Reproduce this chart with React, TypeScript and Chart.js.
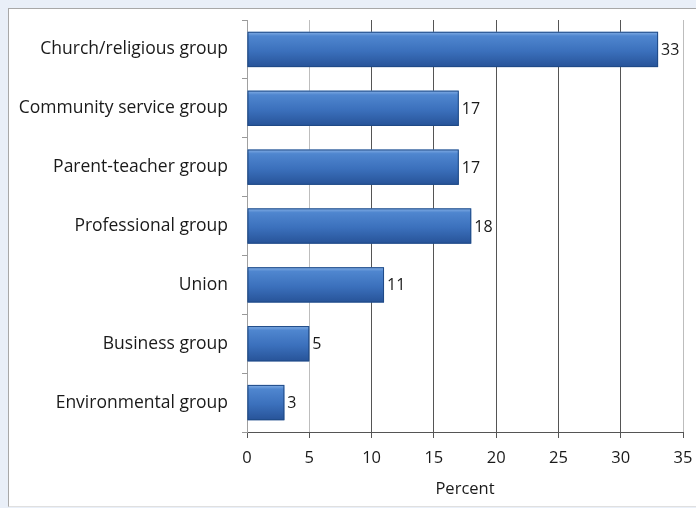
import React, { useEffect, useRef } from "react";
import { Chart, registerables } from "chart.js";

Chart.register(...registerables);

const categories = [
  "Church/religious group",
  "Community service group",
  "Parent-teacher group",
  "Professional group",
  "Union",
  "Business group",
  "Environmental group",
];
const percents = [33, 17, 17, 18, 11, 5, 3];
const xTicks = [0, 5, 10, 15, 20, 25, 30, 35];
const axisTitle = "Percent";

const FONT = "'Open Sans', 'DejaVu Sans', sans-serif";

const gradientBars = {
  id: "gradientBars",
  afterDatasetDraw(chart: any, args: any) {
    const ctx = chart.ctx;
    const meta = args.meta;
    meta.data.forEach((bar: any, i: number) => {
      const p = bar.getProps(["x", "y", "base", "height"], true);
      const top = p.y - p.height / 2;
      const left = Math.min(p.base, p.x);
      const w = Math.abs(p.x - p.base);
      const g = ctx.createLinearGradient(0, top, 0, top + p.height);
      g.addColorStop(0, "#86b0e6");
      g.addColorStop(0.12, "#4f86cf");
      g.addColorStop(0.55, "#3b70bc");
      g.addColorStop(1, "#275398");
      ctx.save();
      ctx.fillStyle = g;
      ctx.fillRect(left, top, w, p.height);
      ctx.strokeStyle = "#1f4a86";
      ctx.lineWidth = 1;
      ctx.strokeRect(left + 0.5, top + 0.5, w - 1, p.height - 1);
      ctx.fillStyle = "#1a1a1a";
      ctx.font = `16px ${FONT}`;
      ctx.textAlign = "left";
      ctx.textBaseline = "middle";
      ctx.fillText(String(percents[i]), p.x + 3, p.y + 1);
      ctx.restore();
    });
  },
};

export default function App() {
  const ref = useRef<HTMLCanvasElement>(null);
  useEffect(() => {
    if (!ref.current) return;
    const chart = new Chart(ref.current, {
      type: "bar",
      data: {
        labels: categories,
        datasets: [
          {
            data: percents,
            backgroundColor: "rgba(0,0,0,0)",
            borderWidth: 0,
            categoryPercentage: 1,
            barPercentage: 0.6,
          },
        ],
      },
      plugins: [gradientBars],
      options: {
        indexAxis: "y",
        animation: false,
        responsive: false,
        devicePixelRatio: 1,
        layout: { padding: { top: 11, right: 13, left: 0, bottom: 0 } },
        plugins: { legend: { display: false }, tooltip: { enabled: false } },
        scales: {
          x: {
            type: "linear",
            min: 0,
            max: 35,
            afterBuildTicks: (s: any) => {
              s.ticks = xTicks.map((v) => ({ value: v }));
            },
            afterFit: (s: any) => {
              s.height = 74;
              s.paddingLeft = 0;
              s.paddingRight = 0;
            },
            ticks: {
              color: "#1a1a1a",
              font: { family: FONT, size: 16.5 },
              padding: 10,
            },
            grid: {
              drawOnChartArea: true,
              tickLength: 6,
              color: (c: any) => {
                const v = c.tick ? c.tick.value : 0;
                return v === 5 || v === 35 ? "#bdbdbd" : "#555555";
              },
              tickColor: "#555555",
            },
            border: { color: "#555555", width: 1 },
            title: {
              display: true,
              text: axisTitle,
              color: "#1a1a1a",
              font: { family: FONT, size: 16.5 },
              padding: { top: 2, bottom: 7 },
            },
          },
          y: {
            afterFit: (s: any) => {
              s.width = 238;
              s.paddingTop = 0;
              s.paddingBottom = 0;
            },
            ticks: {
              color: "#1a1a1a",
              font: { family: FONT, size: 17.5 },
              padding: 14,
            },
            grid: {
              offset: true,
              drawOnChartArea: false,
              tickLength: 5,
              color: "#999999",
            },
            border: { color: "#a0a0a0", width: 1 },
          },
        },
      },
    });
    return () => chart.destroy();
  }, []);

  return (
    <div
      style={{
        position: "fixed",
        left: 0,
        top: 0,
        width: 696,
        height: 508,
        background: "#e9eff8",
        overflow: "hidden",
      }}
    >
      <div
        style={{
          position: "absolute",
          left: 8,
          top: 8,
          width: 700,
          height: 497,
          background: "#ffffff",
          borderTop: "1px solid #a8a8a8",
          borderLeft: "1px solid #a8a8a8",
          borderBottom: "1px solid #e0e0e0",
        }}
      >
        <canvas ref={ref} width={687} height={497} style={{ display: "block" }} />
      </div>
    </div>
  );
}
